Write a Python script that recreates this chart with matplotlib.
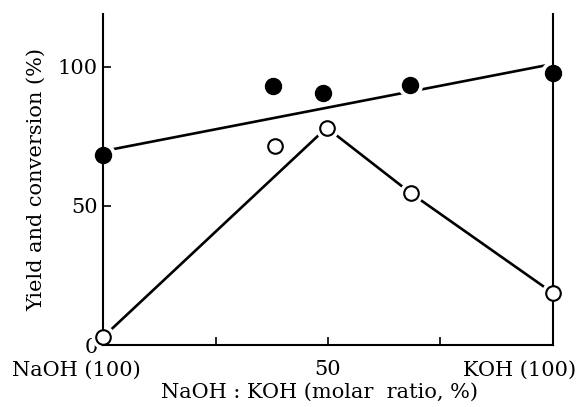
import matplotlib
matplotlib.use('Agg')
import matplotlib.pyplot as plt
from matplotlib.transforms import ScaledTranslation

# NaOH/KOH molar ratio (% KOH) and measured values
ratio_filled = [0, 37.8, 48.9, 68.2, 100]
conversion = [68.3, 93.2, 90.6, 93.5, 97.8]
fit_x = [0, 100]
fit_y = [69.7, 101.0]

ratio_open = [0, 38.2, 49.7, 68.4, 100]
yield_pct = [2.9, 71.6, 78.1, 54.6, 18.7]
yline_x = [0, 49.7, 68.4, 100]
yline_y = [2.9, 78.1, 54.6, 18.7]

xticks = [0, 25, 50, 75, 100]
xticklabels = ['NaOH (100)', '', '50', '', 'KOH (100)']
yticks = [0, 50, 100]

plt.rcParams['font.family'] = 'DejaVu Serif'

fig = plt.figure(figsize=(5.79, 4.07), dpi=100)
ax = fig.add_axes([0.178, 0.152, 0.777, 0.814])

ax.plot(fit_x, fit_y, color='black', lw=1.9, zorder=1, clip_on=False)
ax.plot(yline_x, yline_y, color='black', lw=1.9, zorder=1, clip_on=False)

# white halo to leave small gaps in the lines round each marker
ax.plot(ratio_filled, conversion, 'o', ms=18, color='white', mew=0, zorder=2, clip_on=False)
ax.plot(ratio_open, yield_pct, 'o', ms=17, color='white', mew=0, zorder=2, clip_on=False)

ax.plot(ratio_filled, conversion, 'o', ms=11.5, color='black', zorder=3, clip_on=False)
ax.plot(ratio_open, yield_pct, 'o', ms=10.5, mfc='white', mec='black', mew=1.5,
        zorder=3, clip_on=False)

ax.set_xlim(0, 100)
ax.set_ylim(0, 119)
ax.spines['top'].set_visible(False)
for s in ['left', 'right', 'bottom']:
    ax.spines[s].set_linewidth(1.5)

ax.set_xticks(xticks)
ax.set_xticklabels(xticklabels, fontsize=15)
ax.set_yticks(yticks)
ax.set_yticklabels([str(v) for v in yticks], fontsize=15)
ax.tick_params(direction='in', length=6, width=1.2, pad=4)
ax.tick_params(axis='x', pad=11)

# end labels sit left of their ticks, as in the original
lbls = ax.get_xticklabels()
lbls[0].set_transform(lbls[0].get_transform() + ScaledTranslation(-0.27, 0, fig.dpi_scale_trans))
lbls[4].set_transform(lbls[4].get_transform() + ScaledTranslation(-0.33, 0, fig.dpi_scale_trans))

ax.set_xlabel('NaOH : KOH (molar  ratio, %)', fontsize=15, labelpad=2)
ax.xaxis.set_label_coords(0.48, -0.115)
ax.set_ylabel('Yield and conversion (%)', fontsize=15, labelpad=8)

fig.savefig('out.png', dpi=100)
